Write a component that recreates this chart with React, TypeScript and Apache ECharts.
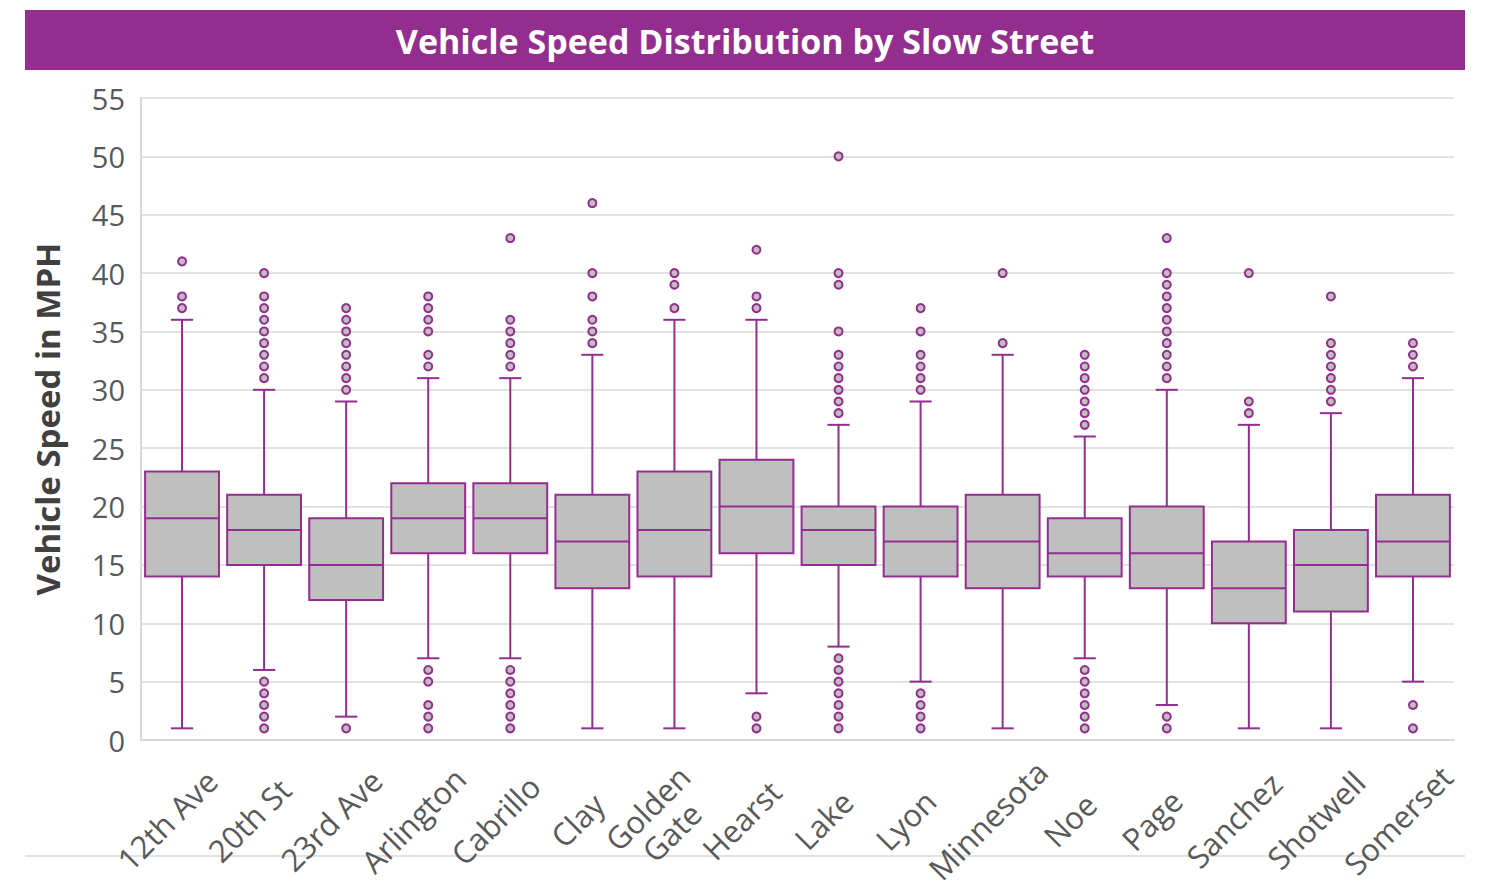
import React, { useEffect, useRef } from "react";
import * as echarts from "echarts";

const categories = [
  "12th Ave", "20th St", "23rd Ave", "Arlington", "Cabrillo", "Clay", "Golden\nGate", "Hearst",
  "Lake", "Lyon", "Minnesota", "Noe", "Page", "Sanchez", "Shotwell", "Somerset",
];
const whiskerLow = [1, 6, 2, 7, 7, 1, 1, 4, 8, 5, 1, 7, 3, 1, 1, 5];
const q1 = [14, 15, 12, 16, 16, 13, 14, 16, 15, 14, 13, 14, 13, 10, 11, 14];
const median = [19, 18, 15, 19, 19, 17, 18, 20, 18, 17, 17, 16, 16, 13, 15, 17];
const q3 = [23, 21, 19, 22, 22, 21, 23, 24, 20, 20, 21, 19, 20, 17, 18, 21];
const whiskerHigh = [36, 30, 29, 31, 31, 33, 36, 36, 27, 29, 33, 26, 30, 27, 28, 31];
const outliers: number[][] = [
  [37, 38, 41],
  [1, 2, 3, 4, 5, 31, 32, 33, 34, 35, 36, 37, 38, 40],
  [1, 30, 31, 32, 33, 34, 35, 36, 37],
  [1, 2, 3, 5, 6, 32, 33, 35, 36, 37, 38],
  [1, 2, 3, 4, 5, 6, 32, 33, 34, 35, 36, 43],
  [34, 35, 36, 38, 40, 46],
  [37, 39, 40],
  [1, 2, 37, 38, 42],
  [1, 2, 3, 4, 5, 6, 7, 28, 29, 30, 31, 32, 33, 35, 39, 40, 50],
  [1, 2, 3, 4, 30, 31, 32, 33, 35, 37],
  [34, 40],
  [1, 2, 3, 4, 5, 6, 27, 28, 29, 30, 31, 32, 33],
  [1, 2, 31, 32, 33, 34, 35, 36, 37, 38, 39, 40, 43],
  [28, 29, 40],
  [29, 30, 31, 32, 33, 34, 38],
  [1, 3, 32, 33, 34],
];
const yTicks = { min: 0, max: 55, interval: 5 };

const PURPLE = "#932E8E";
const BOX_FILL = "#BFBFBF";
const FONT = "'Open Sans', 'Noto Sans', sans-serif";

export default function App() {
  const ref = useRef<HTMLDivElement>(null);
  useEffect(() => {
    document.body.style.margin = "0";
    if (!ref.current) return;
    const chart = echarts.init(ref.current, null, { renderer: "svg" });
    const boxData = categories.map((_, i) => [i, whiskerLow[i], q1[i], median[i], q3[i], whiskerHigh[i]]);
    const outlierData: number[][] = [];
    outliers.forEach((arr, i) => arr.forEach((v) => outlierData.push([i, v])));

    const renderItem = (params: any, api: any) => {
      const idx = api.value(0);
      const low = api.coord([idx, api.value(1)]);
      const pq1 = api.coord([idx, api.value(2)]);
      const pmed = api.coord([idx, api.value(3)]);
      const pq3 = api.coord([idx, api.value(4)]);
      const high = api.coord([idx, api.value(5)]);
      const band = api.size([1, 0])[0];
      const bw = band * 0.9;
      const cw = band * 0.27;
      const x = low[0];
      const ls = { stroke: PURPLE, lineWidth: 2, fill: null };
      return {
        type: "group",
        children: [
          { type: "line", shape: { x1: x, y1: pq1[1], x2: x, y2: low[1] }, style: ls },
          { type: "line", shape: { x1: x - cw / 2, y1: low[1], x2: x + cw / 2, y2: low[1] }, style: ls },
          { type: "line", shape: { x1: x, y1: pq3[1], x2: x, y2: high[1] }, style: ls },
          { type: "line", shape: { x1: x - cw / 2, y1: high[1], x2: x + cw / 2, y2: high[1] }, style: ls },
          {
            type: "rect",
            shape: { x: x - bw / 2, y: pq3[1], width: bw, height: pq1[1] - pq3[1] },
            style: { fill: BOX_FILL, stroke: PURPLE, lineWidth: 2 },
          },
          { type: "line", shape: { x1: x - bw / 2, y1: pmed[1], x2: x + bw / 2, y2: pmed[1] }, style: ls },
        ],
      };
    };

    const labelShift = -15;

    chart.setOption({
      animation: false,
      textStyle: { fontFamily: FONT },
      graphic: [
        { type: "rect", shape: { x: 25, y: 10, width: 1440, height: 60 }, style: { fill: PURPLE }, z: 0 },
        {
          type: "text",
          x: 745,
          y: 41,
          style: {
            text: "Vehicle Speed Distribution by Slow Street",
            fill: "#ffffff",
            font: `bold 34px ${FONT}`,
            textAlign: "center",
            textVerticalAlign: "middle",
          },
          z: 1,
        },
        { type: "line", shape: { x1: 25, y1: 856, x2: 1465, y2: 856 }, style: { stroke: "#d9d9d9", lineWidth: 1.5 }, z: 0 },
      ],
      grid: [
        { left: 141, right: 32, top: 98, bottom: 150, outerBoundsMode: "none", containLabel: false },
        { left: 141 + labelShift, right: 32 - labelShift, top: 98, bottom: 150, outerBoundsMode: "none", containLabel: false },
      ],
      xAxis: [
        {
          type: "category",
          gridIndex: 0,
          data: categories,
          boundaryGap: true,
          axisTick: { show: false },
          axisLine: { lineStyle: { color: "#d9d9d9", width: 2 } },
          axisLabel: { show: false },
        },
        {
          type: "category",
          gridIndex: 1,
          data: categories,
          boundaryGap: true,
          axisTick: { show: false },
          axisLine: { show: false },
          splitLine: { show: false },
          axisLabel: {
            rotate: 45,
            interval: 0,
            fontSize: 31,
            color: "#595959",
            margin: 80,
            lineHeight: 34,
            align: "center",
            verticalAlign: "middle",
            fontFamily: FONT,
          },
        },
      ],
      yAxis: [
        {
          type: "value",
          gridIndex: 0,
          min: yTicks.min,
          max: yTicks.max,
          interval: yTicks.interval,
          name: "Vehicle Speed in MPH",
          nameLocation: "middle",
          nameGap: 77,
          nameTextStyle: { fontSize: 33, fontWeight: "bold", color: "#404040", fontFamily: FONT },
          axisLine: { show: true, lineStyle: { color: "#d9d9d9", width: 2 } },
          axisTick: { show: false },
          axisLabel: { fontSize: 29, color: "#595959", margin: 16, fontFamily: FONT },
          splitLine: { lineStyle: { color: "#d9d9d9", width: 1.5 } },
        },
        {
          type: "value",
          gridIndex: 1,
          min: yTicks.min,
          max: yTicks.max,
          interval: yTicks.interval,
          show: false,
          splitLine: { show: false },
        },
      ],
      series: [
        {
          type: "custom",
          renderItem,
          data: boxData,
          xAxisIndex: 0,
          yAxisIndex: 0,
          encode: { x: 0, y: [1, 2, 3, 4, 5] },
          z: 2,
        },
        {
          type: "scatter",
          data: outlierData,
          xAxisIndex: 0,
          yAxisIndex: 0,
          symbol: "circle",
          symbolSize: 8,
          itemStyle: { color: BOX_FILL, borderColor: PURPLE, borderWidth: 2, opacity: 1 },
          z: 3,
        },
      ],
    });
    return () => chart.dispose();
  }, []);
  return <div ref={ref} style={{ width: 1486, height: 890 }} />;
}
